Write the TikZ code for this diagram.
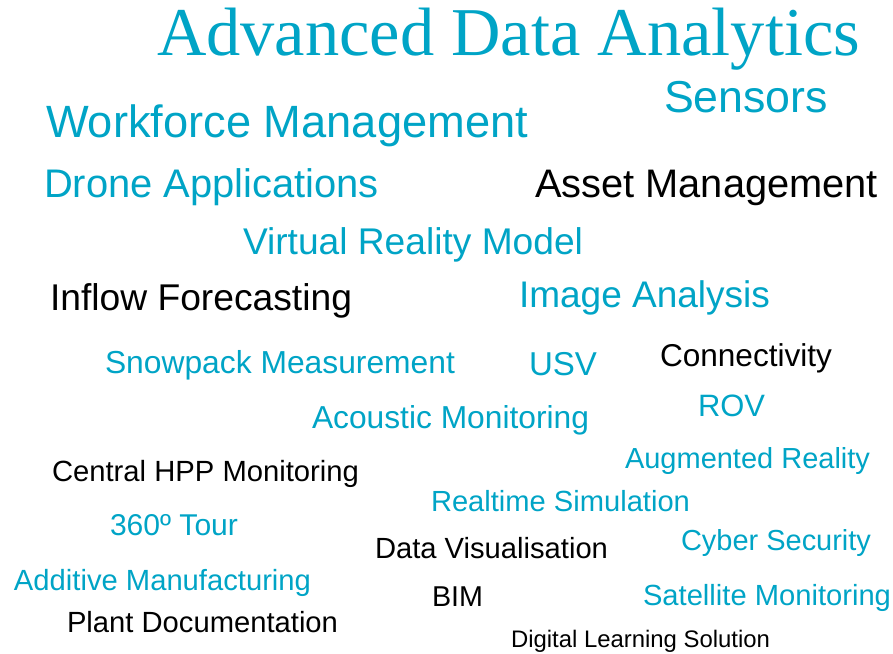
\documentclass[tikz,border=0pt]{standalone}
\usepackage{fontspec}
\setmainfont{Liberation Sans}
\newfontfamily\titlefont{Liberation Serif}
\definecolor{wcteal}{RGB}{0,164,198}
\definecolor{wcblack}{RGB}{0,0,0}
\newcommand{\fitw}[2]{\resizebox{#1pt}{!}{\fontsize{40}{48}\selectfont #2}}
\tikzset{
  word/.style={inner sep=0pt, outer sep=0pt, anchor=base west},
  tw/.style={word, text=wcteal},
  bw/.style={word, text=wcblack}
}
\begin{document}
\begin{tikzpicture}[x=1pt,y=-1pt]
\useasboundingbox (0,0) rectangle (893,653);
\node[tw] (t0) at (157,55) {\resizebox{703pt}{!}{\titlefont\fontsize{40}{48}\selectfont Advanced Data Analytics}};
\node[tw] (t1) at (664,112) {\fitw{164}{Sensors}};
\node[tw] (t2) at (46,137) {\fitw{482}{Workforce Management}};
\node[tw] (t3) at (44,197) {\fitw{335}{Drone Applications}};
\node[bw] (t4) at (535,197) {\fitw{343}{Asset Management}};
\node[tw] (t5) at (243,254) {\fitw{340}{Virtual Reality Model}};
\node[bw] (t6) at (50,310) {\fitw{302}{Inflow Forecasting}};
\node[tw] (t7) at (519,307) {\fitw{251}{Image Analysis}};
\node[tw] (t8) at (105,373) {\fitw{350}{Snowpack Measurement}};
\node[tw] (t9) at (529,375) {\fitw{68}{USV}};
\node[bw] (t10) at (660,366) {\fitw{172}{Connectivity}};
\node[tw] (t11) at (698,416) {\fitw{67}{ROV}};
\node[tw] (t12) at (312,428) {\fitw{277}{Acoustic Monitoring}};
\node[tw] (t13) at (625,468) {\fitw{245}{Augmented Reality}};
\node[bw] (t14) at (52,481) {\fitw{307}{Central HPP Monitoring}};
\node[tw] (t15) at (431,511) {\fitw{259}{Realtime Simulation}};
\node[tw] (t16) at (110,535) {\fitw{128}{360º Tour}};
\node[tw] (t17) at (681,550) {\fitw{190}{Cyber Security}};
\node[bw] (t18) at (375,558) {\fitw{233}{Data Visualisation}};
\node[tw] (t19) at (14,590) {\fitw{297}{Additive Manufacturing}};
\node[tw] (t20) at (643,605) {\fitw{248}{Satellite Monitoring}};
\node[bw] (t21) at (432,606) {\fitw{51}{BIM}};
\node[bw] (t22) at (67,632) {\fitw{271}{Plant Documentation}};
\node[bw] (t23) at (511,647) {\fitw{259}{Digital Learning Solution}};
\end{tikzpicture}
\end{document}
